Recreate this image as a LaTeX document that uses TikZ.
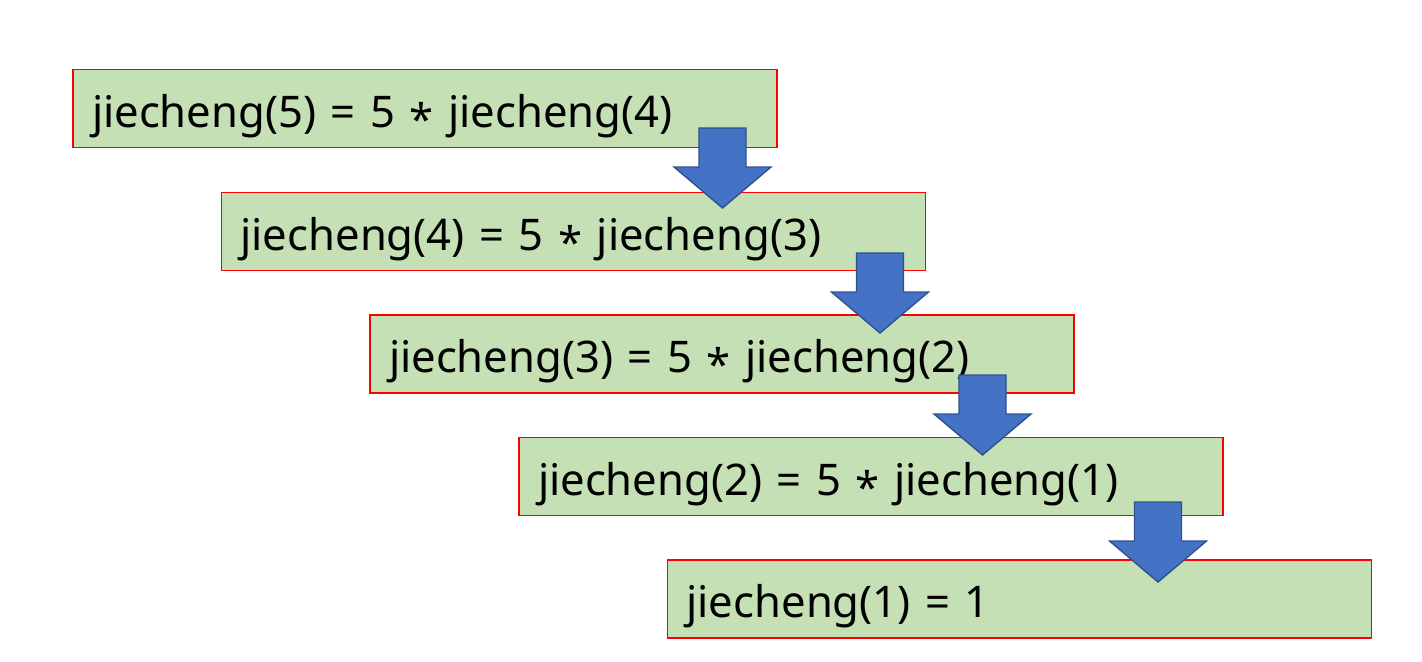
\documentclass[tikz,border=0pt]{standalone}
\usepackage{fontspec}
\setmainfont{Noto Sans}
\usetikzlibrary{positioning}

\definecolor{boxgreen}{HTML}{C5E0B4}
\definecolor{arrowblue}{HTML}{4472C4}
\definecolor{arrowedge}{HTML}{2F528F}
\newcommand{\mul}{\raisebox{-0.35ex}{*}}

\begin{document}
\begin{tikzpicture}[font=\fontsize{24.8}{29}\selectfont,
  step box/.style={rectangle,fill=boxgreen,draw=red,line width=1pt,
    minimum height=1.56cm,text width=13.32cm,inner xsep=0.38cm,inner ysep=0.1cm,
    text height=0.9cm,text depth=0.16cm,align=left},
  block arrow/.style={fill=arrowblue,draw=arrowedge,line width=0.8pt,line join=miter}]
  \useasboundingbox (0,0) rectangle (28.44,-13.22);

  \node[step box] (1) at (8.5,-2.17) {jiecheng(5) = 5 \mul{} jiecheng(4)};
  \node[step box] (2) at (11.47,-4.63) {jiecheng(4) = 5 \mul{} jiecheng(3)};
  \node[step box] (3) at (14.44,-7.08) {jiecheng(3) = 5 \mul{} jiecheng(2)};
  \node[step box] (4) at (17.42,-9.53) {jiecheng(2) = 5 \mul{} jiecheng(1)};
  \node[step box] (5) at (20.39,-11.98) {jiecheng(1) = 1};

  % arrows from one call to the next
  \coordinate (a1) at (14.45,-2.56);
  \coordinate (a2) at (17.6,-5.06);
  \coordinate (a3) at (19.65,-7.5);
  \coordinate (a4) at (23.16,-10.04);

  \foreach \a in {a1,a2,a3,a4}
    \filldraw[block arrow] (\a) +(-0.47,0) -- +(0.47,0) -- +(0.47,-0.78)
      -- +(0.97,-0.78) -- +(0,-1.6) -- +(-0.97,-0.78) -- +(-0.47,-0.78) -- cycle;
\end{tikzpicture}
\end{document}
